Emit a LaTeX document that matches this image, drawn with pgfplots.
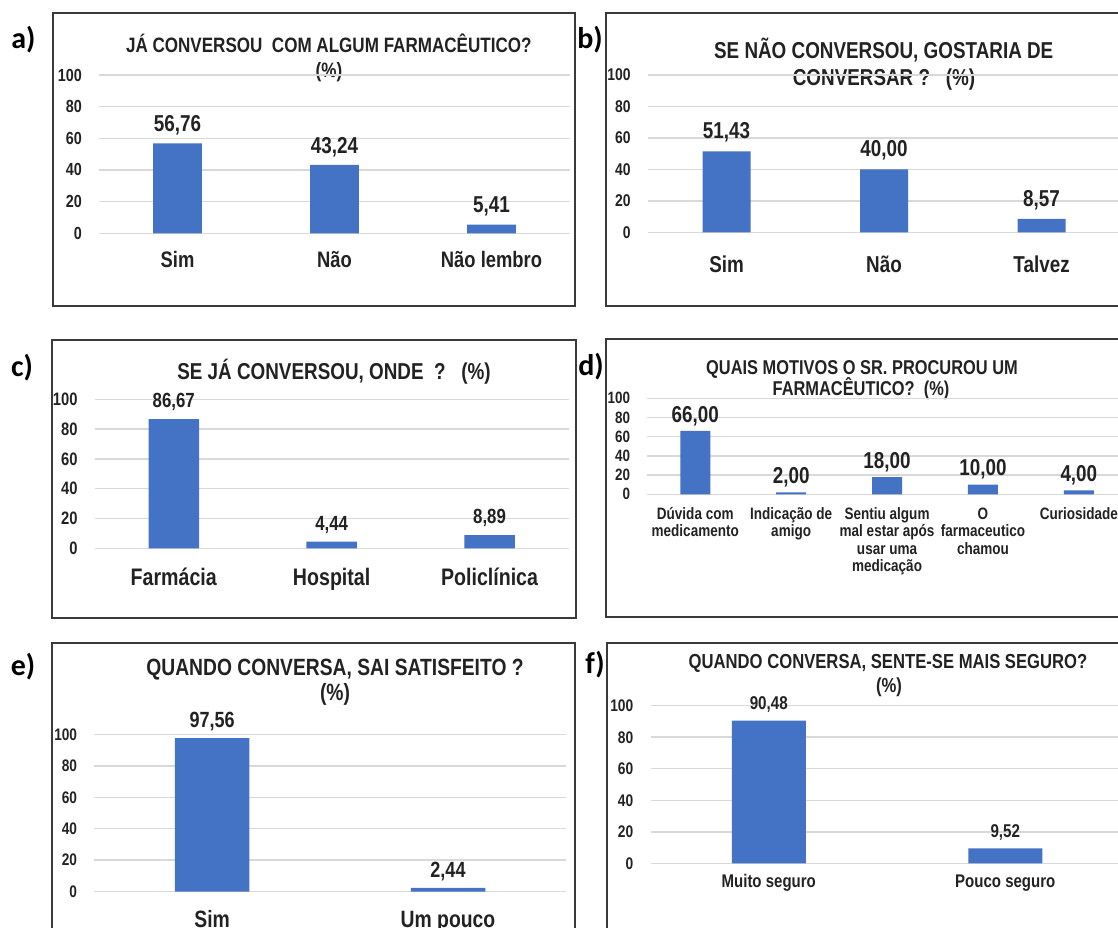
\documentclass[border=0pt]{standalone}
\usepackage{fontspec}
\usepackage{pgfplots}
\pgfplotsset{compat=1.18}

% condensed bold sans for the charts, Calibri-like face for panel letters
\newfontfamily\nb[FakeStretch=0.82]{Liberation Sans}
\newfontfamily\lb{Carlito}
\newcommand\fnt[1]{\nb\bfseries\fontsize{#1}{#1}\selectfont}
\newcommand\st{\rule{0pt}{13pt}}

\definecolor{barblue}{HTML}{4472C4}
\definecolor{gridgray}{HTML}{D9D9D9}
\definecolor{ink}{HTML}{222222}
\definecolor{framecol}{HTML}{3A3A3A}

\pgfplotsset{
  panel/.style={
    scale only axis, anchor=south west, clip=false,
    ybar, ymin=0, ymax=100, ytick={0,20,...,100},
    axis line style={draw=none}, major tick length=0pt,
    ymajorgrids, major grid style={gridgray, line width=1.5pt},
    xtick=data,
    /pgf/number format/assume math mode=true,
    yticklabel style={anchor=east, inner sep=0pt, xshift=-17pt, text=ink},
    xticklabel style={anchor=base, inner sep=0pt, text=ink, align=center},
    nodes near coords={\pgfmathprintnumber[fixed,fixed zerofill,precision=2,use comma,assume math mode=true]{\pgfplotspointmeta}},
    every node near coord/.append style={anchor=base, inner sep=0pt, text=ink},
  },
  bars/.style={fill=barblue, draw=none},
}

\begin{document}
\begin{tikzpicture}
\path[use as bounding box] (0,0) rectangle (1118pt,928pt);

% panel frames
\begin{scope}[framecol, line width=2pt]
  \draw (53pt,915.3pt) rectangle (575pt,622pt);
  \draw (605.7pt,915.3pt) rectangle (1130pt,622pt);
  \draw (52pt,588pt) rectangle (576pt,310pt);
  \draw (605.7pt,588.7pt) rectangle (1130pt,311.3pt);
  \draw (52pt,284.7pt) rectangle (575pt,-10pt);
  \draw (606.8pt,285.3pt) rectangle (1130pt,-10pt);
\end{scope}

% panel letters
\begin{scope}[every node/.style={inner sep=0pt, font=\lb\bfseries\fontsize{30}{30}\selectfont}]
  \node at (23.5pt,888pt) {a)};
  \node at (590pt,888pt) {b)};
  \node at (22pt,560pt) {c)};
  \node at (591pt,561.3pt) {d)};
  \node at (23pt,261.3pt) {e)};
  \node at (595pt,263pt) {f)};
\end{scope}

% titles
\begin{scope}[every node/.style={inner sep=0pt, anchor=base, text=ink}]
  \node[font=\fnt{20.8}] at (328.8pt,875.6pt) {JÁ CONVERSOU\ \ COM ALGUM FARMACÊUTICO?};
  \node[font=\fnt{20.8}] at (329pt,850.6pt) {(\%)};
  \node[font=\fnt{23}] at (883.7pt,869.8pt) {SE NÃO CONVERSOU, GOSTARIA DE};
  \node[font=\fnt{23}] at (884pt,842.8pt) {CONVERSAR ?\ \ \ (\%)};
  \node[font=\fnt{23}] at (334pt,548.1pt) {SE JÁ CONVERSOU, ONDE\ \ ?\ \ \ (\%)};
  \node[font=\fnt{20}] at (862pt,553.5pt) {QUAIS MOTIVOS O SR. PROCUROU UM};
  \node[font=\fnt{20}] at (861pt,532.5pt) {FARMACÊUTICO?\ \ (\%)};
  \node[font=\fnt{23.5}] at (335pt,252.9pt) {QUANDO CONVERSA, SAI SATISFEITO ?};
  \node[font=\fnt{23.5}] at (335pt,227.9pt) {(\%)};
  \node[font=\fnt{20.3}] at (888pt,259pt) {QUANDO CONVERSA, SENTE-SE MAIS SEGURO?};
  \node[font=\fnt{20.3}] at (889pt,235.7pt) {(\%)};
\end{scope}

% a) Já conversou com algum farmacêutico?
\begin{axis}[panel, at={(99pt,694.7pt)}, width=471pt, height=158.3pt,
  xmin=-0.5, xmax=2.5, bar width=48.6pt,
  xticklabels={Sim, Não, Não lembro},
  yticklabel style={font=\fnt{17.5}},
  xticklabel style={font=\fnt{22.4}, yshift=-34.7pt},
  every node near coord/.append style={font=\fnt{23}, yshift=11.8pt}]
  \addplot[bars] coordinates {(0,56.76) (1,43.24) (2,5.41)};
\end{axis}

% b) Se não conversou, gostaria de conversar?
\begin{axis}[panel, at={(647.8pt,695.5pt)}, width=472.5pt, height=157.5pt,
  xmin=-0.5, xmax=2.5, bar width=48pt,
  xticklabels={Sim, Não, Talvez},
  yticklabel style={font=\fnt{17}},
  xticklabel style={font=\fnt{23}, yshift=-39.7pt},
  every node near coord/.append style={font=\fnt{23}, yshift=12.5pt}]
  \addplot[bars] coordinates {(0,51.43) (1,40.00) (2,8.57)};
\end{axis}

% c) Se já conversou, onde?
\begin{axis}[panel, at={(94.8pt,379.7pt)}, width=473.7pt, height=149pt,
  xmin=-0.5, xmax=2.5, bar width=50.5pt,
  xticklabels={Farmácia, Hospital, Policlínica},
  yticklabel style={font=\fnt{18}},
  xticklabel style={font=\fnt{23.9}, yshift=-37pt},
  every node near coord/.append style={font=\fnt{20.5}, yshift=11.4pt}]
  \addplot[bars] coordinates {(0,86.67) (1,4.44) (2,8.89)};
\end{axis}

% d) Quais motivos o levaram a procurar um farmacêutico?
\begin{axis}[panel, at={(647.3pt,433.7pt)}, width=479.5pt, height=96pt,
  xmin=-0.5, xmax=4.5, bar width=30pt,
  xticklabels={{\st Dúvida com\\medicamento}, {\st Indicação de\\amigo},
    {\st Sentiu algum\\mal estar após\\usar uma\\medicação},
    {\st O\\farmaceutico\\chamou}, {\st Curiosidade}},
  yticklabel style={font=\fnt{16.4}},
  xticklabel style={font=\nb\bfseries\fontsize{16.5}{17.5}\selectfont,
    anchor=north, yshift=-12pt},
  every node near coord/.append style={font=\fnt{23}, yshift=8.8pt}]
  \addplot[bars] coordinates {(0,66.00) (1,2.00) (2,18.00) (3,10.00) (4,4.00)};
\end{axis}

% e) Quando conversa, sai satisfeito?
\begin{axis}[panel, at={(94.3pt,36.3pt)}, width=471.6pt, height=157.4pt,
  xmin=-0.5, xmax=1.5, bar width=74.5pt,
  xticklabels={Sim, Um pouco},
  yticklabel style={font=\fnt{16.7}},
  xticklabel style={font=\fnt{23.6}, yshift=-36pt},
  every node near coord/.append style={font=\fnt{22}, yshift=10.4pt}]
  \addplot[bars] coordinates {(0,97.56) (1,2.44)};
\end{axis}

% f) Quando conversa, sente-se mais seguro?
\begin{axis}[panel, at={(650.5pt,64.7pt)}, width=473pt, height=157.6pt,
  xmin=-0.5, xmax=1.5, bar width=74pt,
  xticklabels={Muito seguro, Pouco seguro},
  yticklabel style={font=\fnt{16.8}},
  xticklabel style={font=\fnt{18.3}, yshift=-24pt},
  every node near coord/.append style={font=\fnt{18.5}, yshift=10.9pt}]
  \addplot[bars] coordinates {(0,90.48) (1,9.52)};
\end{axis}
\end{tikzpicture}
\end{document}
